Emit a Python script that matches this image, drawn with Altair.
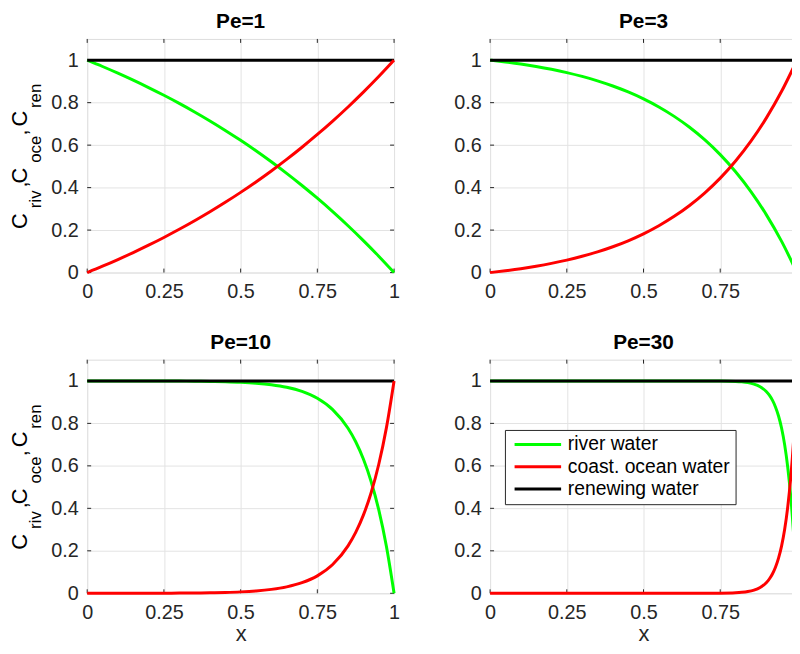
import altair as alt
import pandas as pd

series_names = ["river water", "coast. ocean water", "renewing water"]
series_colors = ["#00ff00", "#ff0000", "#000000"]
panel_titles = ["Pe=1", "Pe=3", "Pe=10", "Pe=30"]
x_ticks = [0, 0.25, 0.5, 0.75, 1]
y_ticks = [0, 0.2, 0.4, 0.6, 0.8, 1]
ylabel_parts = ["C", "riv", ",", "C", "oce", ",", "C", "ren"]

# Pe = 1
x_pe1 = [0, 0.05, 0.1, 0.15, 0.2, 0.25, 0.3, 0.35, 0.4, 0.45, 0.5,
         0.55, 0.6, 0.65, 0.7, 0.75, 0.8, 0.85, 0.9, 0.95, 1]
river_pe1 = [1, 0.9702, 0.9388, 0.9058, 0.8711, 0.8347, 0.7964, 0.7561, 0.7138, 0.6693, 0.6225,
             0.5733, 0.5215, 0.4672, 0.4100, 0.3499, 0.2868, 0.2204, 0.1505, 0.0772, 0]
ocean_pe1 = [0, 0.0298, 0.0612, 0.0942, 0.1289, 0.1653, 0.2036, 0.2439, 0.2862, 0.3307, 0.3775,
             0.4267, 0.4785, 0.5328, 0.5900, 0.6501, 0.7132, 0.7796, 0.8495, 0.9228, 1]

# Pe = 3
x_pe3 = [0, 0.05, 0.1, 0.15, 0.2, 0.25, 0.3, 0.35, 0.4, 0.45, 0.5,
         0.55, 0.6, 0.65, 0.7, 0.75, 0.8, 0.85, 0.9, 0.95, 1]
river_pe3 = [1, 0.9915, 0.9817, 0.9702, 0.9569, 0.9415, 0.9235, 0.9027, 0.8784, 0.8503, 0.8176,
             0.7796, 0.7354, 0.6841, 0.6245, 0.5553, 0.4748, 0.3814, 0.2728, 0.1466, 0]
ocean_pe3 = [0, 0.0085, 0.0183, 0.0298, 0.0431, 0.0585, 0.0765, 0.0973, 0.1216, 0.1497, 0.1824,
             0.2204, 0.2646, 0.3159, 0.3755, 0.4447, 0.5252, 0.6186, 0.7272, 0.8534, 1]

# Pe = 10
x_pe10 = [0, 0.05, 0.1, 0.15, 0.2, 0.25, 0.3, 0.35, 0.4, 0.45, 0.5, 0.55,
          0.6, 0.65, 0.7, 0.75, 0.8, 0.85, 0.875, 0.9, 0.925, 0.95, 0.975, 1]
river_pe10 = [1, 0.99997, 0.99992, 0.99984, 0.99971, 0.99949, 0.99913, 0.99854, 0.99757, 0.99596,
              0.99331, 0.98894, 0.98173, 0.96985, 0.95026, 0.91796, 0.86470, 0.77690, 0.71353,
              0.63215, 0.52764, 0.39349, 0.22119, 0]
ocean_pe10 = [0, 0.00003, 0.00008, 0.00016, 0.00029, 0.00051, 0.00087, 0.00146, 0.00243, 0.00404,
              0.00669, 0.01106, 0.01827, 0.03015, 0.04974, 0.08204, 0.13530, 0.22310, 0.28647,
              0.36785, 0.47236, 0.60651, 0.77881, 1]

# Pe = 30
x_pe30 = [0, 0.1, 0.2, 0.3, 0.4, 0.5, 0.6, 0.65, 0.7, 0.75, 0.8, 0.82, 0.84, 0.86, 0.88,
          0.9, 0.91, 0.92, 0.93, 0.94, 0.95, 0.96, 0.97, 0.98, 0.99, 0.995, 1]
river_pe30 = [1, 1, 1, 1, 1, 1, 0.99999, 0.99997, 0.99988, 0.99945, 0.99752, 0.99548, 0.99177,
              0.98500, 0.97268, 0.95021, 0.93279, 0.90928, 0.87754, 0.83470, 0.77687, 0.69881,
              0.59343, 0.45119, 0.25918, 0.13929, 0]
ocean_pe30 = [0, 0, 0, 0, 0, 0, 0.00001, 0.00003, 0.00012, 0.00055, 0.00248, 0.00452, 0.00823,
              0.01500, 0.02732, 0.04979, 0.06721, 0.09072, 0.12246, 0.16530, 0.22313, 0.30119,
              0.40657, 0.54881, 0.74082, 0.86071, 1]

# renewing water
renew_x = [0, 1]
renew_y = [1, 1]

FONT = "Liberation Sans"
W, H = 310, 236
AXC = "#262626"
LABEL_EXPR = "'' + datum.value"


def make_df(xs, river, ocean):
    rows = []
    for name, xv, yv in ((series_names[0], xs, river),
                         (series_names[1], xs, ocean),
                         (series_names[2], renew_x, renew_y)):
        for a, b in zip(xv, yv):
            rows.append({"x": a, "c": b, "series": name})
    return pd.DataFrame(rows)


legend = alt.Legend(orient="none", legendX=422, legendY=395, title=None,
                    symbolType="M-0.833,0H7", symbolSize=144, symbolStrokeWidth=3,
                    labelFontSize=19.5, labelFont=FONT, labelColor="#000000", labelOffset=39,
                    labelLimit=400, rowPadding=1.5, padding=5,
                    strokeColor=AXC, fillColor="#ffffff")


def panel(title, df, left, bottom):
    xenc = alt.X("x:Q", scale=alt.Scale(domain=[0, 1], nice=False, zero=False),
                 axis=alt.Axis(values=x_ticks, labelExpr=LABEL_EXPR, title="x" if bottom else None,
                               grid=True, gridColor="#e3e3e3", domain=False, tickSize=0,
                               labelFlush=False, labelOverlap=False, labelPadding=9,
                               labelFontSize=20, labelFont=FONT, labelColor=AXC,
                               titleFontSize=22, titleFont=FONT, titleFontWeight="normal",
                               titleColor=AXC, titlePadding=19, titleBaseline="alphabetic"))
    yenc = alt.Y("c:Q", scale=alt.Scale(domain=[0, 1.1], nice=False, zero=False),
                 axis=alt.Axis(values=y_ticks, labelExpr=LABEL_EXPR, title=None,
                               grid=True, gridColor="#e3e3e3", domain=False, tickSize=0,
                               labelFlush=False, labelOverlap=False, labelPadding=9,
                               labelFontSize=20, labelFont=FONT, labelColor=AXC))
    color = alt.Color("series:N", scale=alt.Scale(domain=series_names, range=series_colors),
                      legend=legend)
    base = alt.Chart(df)
    one = alt.Data(values=[{"k": 1}])
    layers = []
    # inward ticks on all four sides
    xt = alt.Chart(pd.DataFrame({"x": x_ticks}))
    yt = alt.Chart(pd.DataFrame({"c": y_ticks}))
    layers.append(xt.mark_rule(color=AXC, strokeWidth=1).encode(x=xenc, y=alt.value(H), y2=alt.value(H - 4)))
    layers.append(xt.mark_rule(color=AXC, strokeWidth=1).encode(x=xenc, y=alt.value(0), y2=alt.value(4)))
    layers.append(yt.mark_rule(color=AXC, strokeWidth=1).encode(y=yenc, x=alt.value(0), x2=alt.value(4)))
    layers.append(yt.mark_rule(color=AXC, strokeWidth=1).encode(y=yenc, x=alt.value(W), x2=alt.value(W - 4)))
    for s in (series_names[0], series_names[2], series_names[1]):
        layers.append(base.mark_line(strokeWidth=3, interpolate="monotone")
                      .encode(x=xenc, y=yenc, color=color)
                      .transform_filter(alt.datum.series == s))
    # panel title
    layers.append(alt.Chart(one).mark_text(
        text=title, align="center", baseline="alphabetic", fontSize=21, fontWeight="bold",
        font=FONT, color="#000000").encode(x=alt.value(W / 2), y=alt.value(-11)))
    if left:
        big_x, sub_x = -61, -46.5
        pos = [184, 162, 147, 138, 111.5, 94.5, 80.5, 57.5]
        for part, py in zip(ylabel_parts, pos):
            is_sub = part in ("riv", "oce", "ren")
            layers.append(alt.Chart(one).mark_text(
                text=part, angle=270, align="center", baseline="alphabetic",
                fontSize=17 if is_sub else 22, font=FONT, color="#000000")
                .encode(x=alt.value(sub_x if is_sub else big_x), y=alt.value(py)))
    return alt.layer(*layers).properties(width=W, height=H)


p1 = panel(panel_titles[0], make_df(x_pe1, river_pe1, ocean_pe1), True, False)
p3 = panel(panel_titles[1], make_df(x_pe3, river_pe3, ocean_pe3), False, False)
p10 = panel(panel_titles[2], make_df(x_pe10, river_pe10, ocean_pe10), True, True)
p30 = panel(panel_titles[3], make_df(x_pe30, river_pe30, ocean_pe30), False, True)

chart = alt.concat(p1, p3, p10, p30, columns=2,
                   spacing=alt.RowColnumber(row=88, column=97),
                   bounds="flush").properties(
    autosize=alt.AutoSizeParams(type="none"),
    padding={"left": 80, "top": 28, "right": 712, "bottom": 610}
).configure_view(stroke=AXC, strokeWidth=1).configure(background="#ffffff")

chart.save("out.html", embed_options={"renderer": "svg", "actions": False})
